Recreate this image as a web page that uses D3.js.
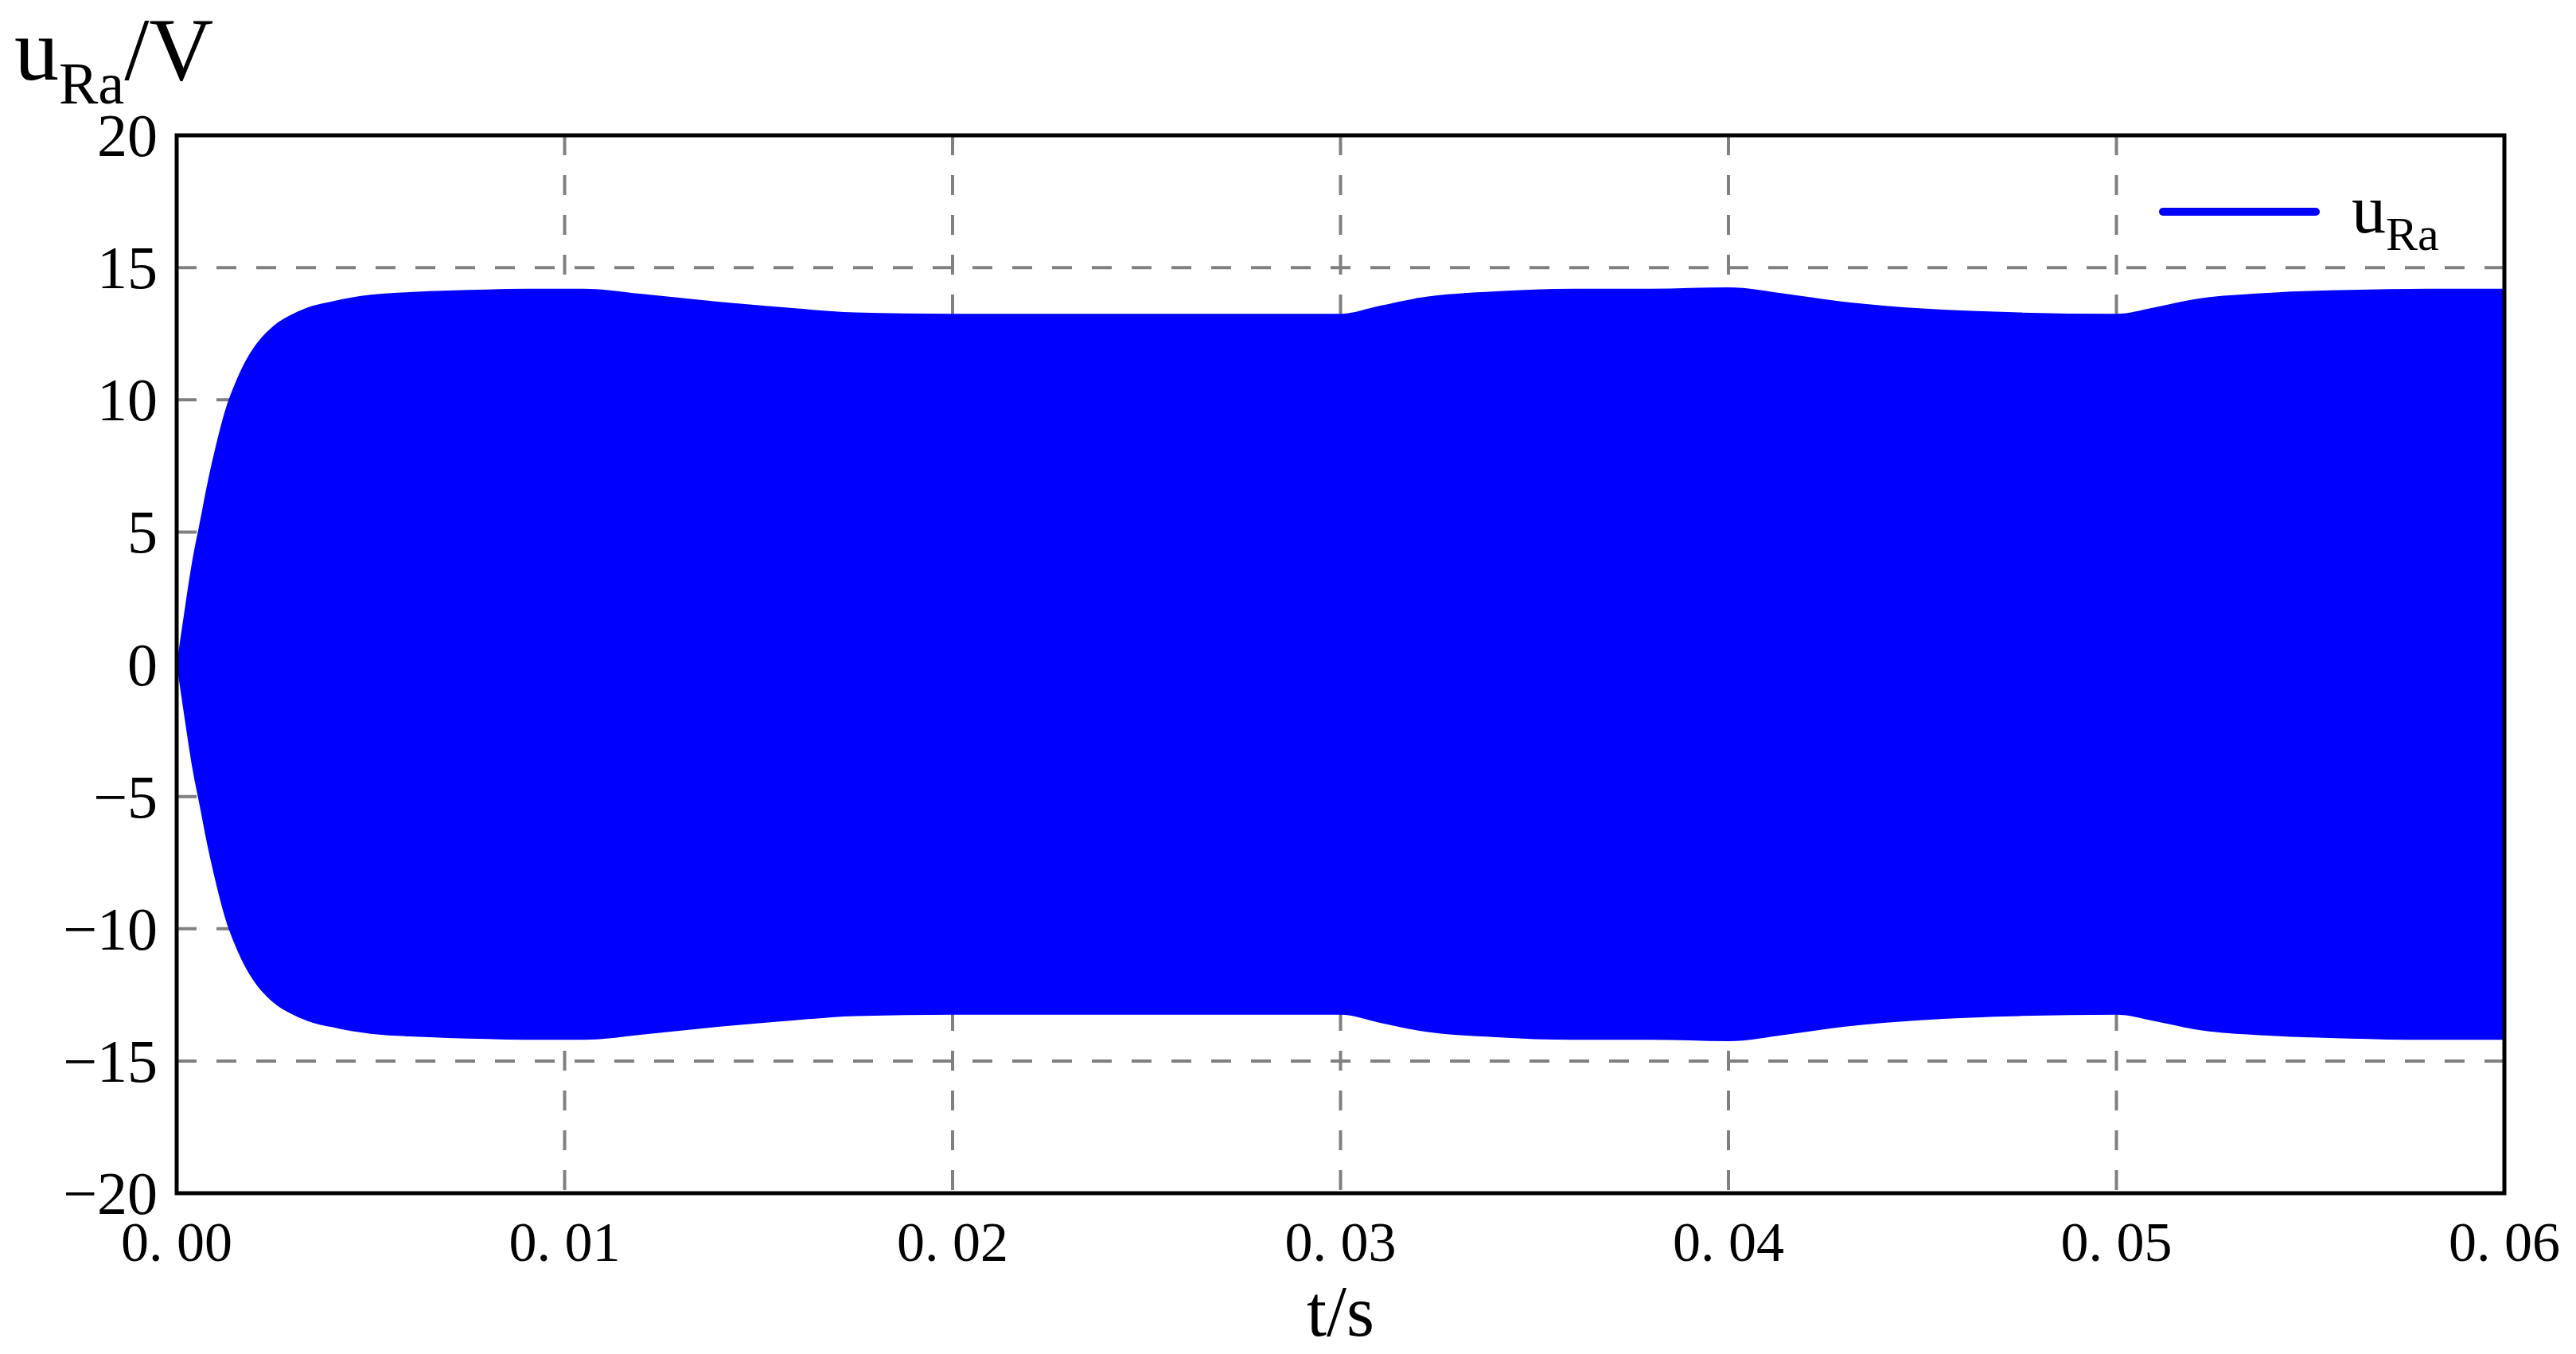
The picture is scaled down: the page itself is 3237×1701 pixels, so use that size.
<!DOCTYPE html>
<html><head><meta charset="utf-8">
<script src="https://cdn.jsdelivr.net/npm/d3@7"></script>
<style>body{margin:0;background:#fff}</style></head>
<body><svg id="c" width="3237" height="1701"></svg>
<script>
const envT = [0,0.0002,0.0004,0.0006,0.0008,0.001,0.00125,0.0015,0.00175,0.002,0.0025,0.003,0.0035,0.004,0.0045,0.005,0.006,0.007,0.008,0.009,0.0105,0.012,0.014,0.016,0.0175,0.02,0.025,0.0300,0.031,0.032,0.034,0.036,0.038,0.040,0.0415,0.043,0.045,0.0475,0.050,0.051,0.052,0.054,0.056,0.058,0.060];
const envA = [0,2.0,3.9,5.4,6.9,8.2,9.6,10.6,11.4,12.0,12.8,13.25,13.55,13.72,13.87,13.97,14.07,14.13,14.17,14.2,14.2,14.0,13.7,13.45,13.3,13.25,13.25,13.25,13.55,13.85,14.1,14.2,14.2,14.25,14.0,13.7,13.45,13.3,13.25,13.5,13.8,14.05,14.15,14.2,14.2];
const xTicks = [0,0.01,0.02,0.03,0.04,0.05,0.06];
const xTickLabels = ["0. 00","0. 01","0. 02","0. 03","0. 04","0. 05","0. 06"];
const yTicks = [-20,-15,-10,-5,0,5,10,15,20];

const svg = d3.select("#c");
const L=222,R=3147,T=170,B=1499;
const x = d3.scaleLinear().domain([0,0.06]).range([L,R]);
const y = d3.scaleLinear().domain([-20,20]).range([B,T]);
const g = svg.append("g");
g.selectAll(".gx").data(xTicks.slice(1,-1)).join("line").attr("x1",d=>x(d)).attr("x2",d=>x(d)).attr("y1",T).attr("y2",B)
 .attr("stroke","#808080").attr("stroke-width",4).attr("stroke-dasharray","25,25");
g.selectAll(".gy").data(yTicks.slice(1,-1)).join("line").attr("y1",d=>y(d)).attr("y2",d=>y(d)).attr("x1",L).attr("x2",R)
 .attr("stroke","#808080").attr("stroke-width",4).attr("stroke-dasharray","25,25");
const pts = envT.map((t,i)=>({t,a:envA[i]}));
g.append("path").datum(pts).attr("fill","#0000ff")
 .attr("d",d3.area().curve(d3.curveMonotoneX).x(d=>x(d.t)).y0(d=>y(-d.a)).y1(d=>y(d.a)));
g.append("rect").attr("x",L).attr("y",T).attr("width",R-L).attr("height",B-T).attr("fill","none").attr("stroke","#000").attr("stroke-width",5);
svg.selectAll(".yl").data(yTicks).join("text").attr("x",L-24).attr("y",d=>y(d)+26).attr("text-anchor","end")
 .attr("font-family","Liberation Serif").attr("font-size",76).text(d=>d<0?"\u2212"+(-d):d);
svg.selectAll(".xl").data(xTicks).join("text").attr("x",d=>x(d)).attr("y",1584).attr("text-anchor","middle")
 .attr("font-family","Liberation Serif").attr("font-size",70).text((d,i)=>xTickLabels[i]);
const yt = svg.append("text").attr("x",18).attr("y",100).attr("font-family","Liberation Serif").attr("font-size",112);
yt.append("tspan").text("u");
yt.append("tspan").attr("font-size",74).attr("dy",30).text("Ra");
yt.append("tspan").attr("dy",-30).text("/V");
svg.append("text").attr("x",(L+R)/2).attr("y",1678).attr("text-anchor","middle").attr("font-family","Liberation Serif").attr("font-size",90).text("t/s");
svg.append("line").attr("x1",2718).attr("x2",2910).attr("y1",266).attr("y2",266).attr("stroke","#0000ff").attr("stroke-width",10).attr("stroke-linecap","round");
const lt = svg.append("text").attr("x",2955).attr("y",292).attr("font-family","Liberation Serif").attr("font-size",86);
lt.append("tspan").text("u");
lt.append("tspan").attr("font-size",60).attr("dy",22).text("Ra");
</script></body></html>
